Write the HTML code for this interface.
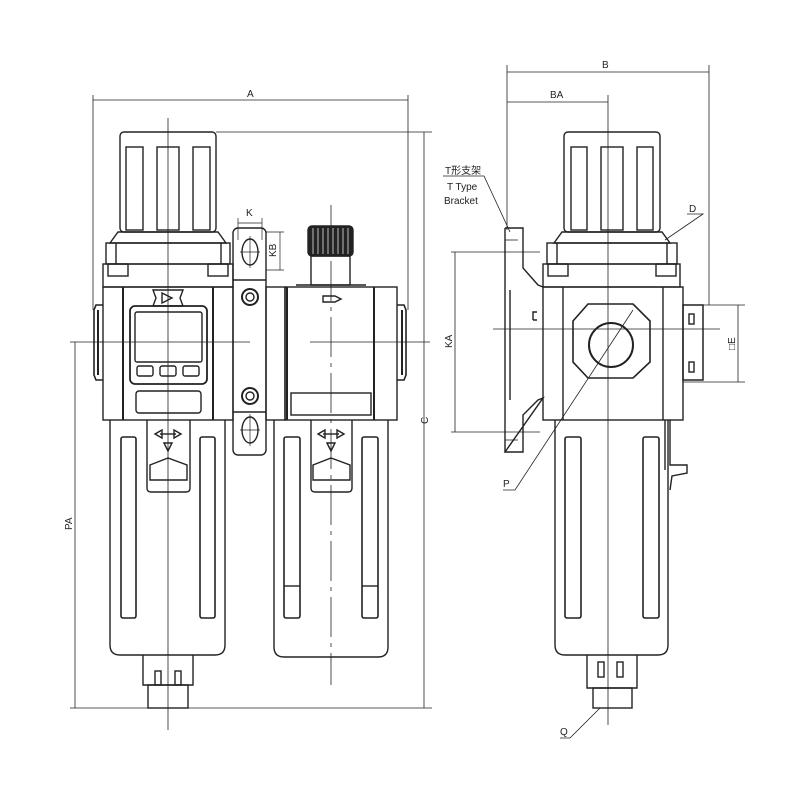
<!DOCTYPE html>
<html><head><meta charset="utf-8"><style>
html,body{margin:0;padding:0;background:#fff;}
svg{display:block}
text{font-family:"Liberation Sans","Noto Sans CJK SC",sans-serif;font-size:10px;fill:#222}
</style></head><body>
<svg width="800" height="800" viewBox="0 0 800 800" xmlns="http://www.w3.org/2000/svg">
<g fill="none" stroke="#222" stroke-width="1.4">
<!-- ===== LEFT VIEW ===== -->
<line x1="93" y1="100" x2="408" y2="100" stroke-width="0.8"/>
<line x1="93" y1="95" x2="93" y2="310" stroke-width="0.8"/>
<line x1="408" y1="95" x2="408" y2="310" stroke-width="0.8"/>
<line x1="216" y1="132" x2="432" y2="132" stroke-width="0.8"/>
<line x1="424" y1="132" x2="424" y2="708" stroke-width="0.8"/>
<line x1="70" y1="708" x2="432" y2="708" stroke-width="0.8"/>
<line x1="70" y1="342" x2="103" y2="342" stroke-width="0.8"/>
<line x1="75" y1="342" x2="75" y2="708" stroke-width="0.8"/>

<rect x="120" y="132" width="96" height="100" rx="4"/>
<rect x="126" y="147" width="17" height="83"/>
<rect x="157" y="147" width="22" height="83"/>
<rect x="193" y="147" width="17" height="83"/>
<path d="M118 232 L218 232 L226 243 L110 243 Z"/>
<rect x="106" y="243" width="124" height="21"/>
<line x1="116" y1="243" x2="116" y2="264"/><line x1="221" y1="243" x2="221" y2="264"/>
<rect x="103" y="264" width="130" height="23"/>
<rect x="108" y="264" width="20" height="12"/><rect x="208" y="264" width="20" height="12"/>
<rect x="103" y="287" width="130" height="133"/>
<line x1="123" y1="287" x2="123" y2="420" stroke-width="2"/>
<line x1="213" y1="287" x2="213" y2="420" stroke-width="2"/>
<path d="M153 290 L183 290 L180 298 L183 306 L153 306 L156 298 Z"/>
<path d="M162 293 L172 298 L162 303 Z"/>
<rect x="130" y="306" width="77" height="78" rx="5" stroke-width="1.8"/>
<rect x="135" y="312" width="67" height="50" rx="2"/>
<rect x="137" y="366" width="16" height="10" rx="2"/>
<rect x="160" y="366" width="16" height="10" rx="2"/>
<rect x="183" y="366" width="16" height="10" rx="2"/>
<rect x="136" y="391" width="65" height="22" rx="3"/>
<path d="M103 305 L96 305 L94 310 L94 375 L96 380 L103 380" stroke-width="1.6"/>
<line x1="98" y1="310" x2="98" y2="375" stroke-width="2"/>
<rect x="233" y="228" width="33" height="227" rx="5"/>
<line x1="233" y1="280" x2="266" y2="280"/>
<line x1="233" y1="412" x2="266" y2="412"/>
<ellipse cx="250" cy="252" rx="8" ry="13"/>
<ellipse cx="250" cy="430" rx="8" ry="13"/>
<circle cx="250" cy="297" r="8" stroke-width="2"/><circle cx="250" cy="297" r="4"/>
<circle cx="250" cy="396" r="8" stroke-width="2"/><circle cx="250" cy="396" r="4"/>
<line x1="240" y1="252" x2="260" y2="252" stroke-width="0.7"/>
<line x1="240" y1="430" x2="260" y2="430" stroke-width="0.7"/>
<line x1="250" y1="236" x2="250" y2="268" stroke-width="0.7"/>
<line x1="250" y1="414" x2="250" y2="446" stroke-width="0.7"/>
<line x1="238" y1="223" x2="262" y2="223" stroke-width="0.7"/>
<line x1="238" y1="218" x2="238" y2="240" stroke-width="0.7"/>
<line x1="262" y1="218" x2="262" y2="240" stroke-width="0.7"/>
<line x1="266" y1="232" x2="284" y2="232" stroke-width="0.7"/>
<line x1="266" y1="270" x2="284" y2="270" stroke-width="0.7"/>
<line x1="280" y1="232" x2="280" y2="270" stroke-width="0.7"/>
<rect x="266" y="287" width="19" height="133"/>
<rect x="308" y="226" width="45" height="30" rx="4" fill="#222"/>
<g stroke="#fff" stroke-width="0.7">
<line x1="313" y1="228" x2="313" y2="254"/><line x1="318" y1="228" x2="318" y2="254"/><line x1="323" y1="228" x2="323" y2="254"/><line x1="328" y1="228" x2="328" y2="254"/><line x1="333" y1="228" x2="333" y2="254"/><line x1="338" y1="228" x2="338" y2="254"/><line x1="343" y1="228" x2="343" y2="254"/><line x1="348" y1="228" x2="348" y2="254"/></g>
<rect x="311" y="256" width="39" height="29"/>
<line x1="296" y1="285" x2="366" y2="285"/>
<rect x="285" y="287" width="112" height="133"/>
<line x1="287" y1="287" x2="287" y2="420" stroke-width="2"/>
<line x1="374" y1="287" x2="374" y2="420" stroke-width="2"/>
<path d="M323 296 L335 296 L341 299 L335 302 L323 302 Z"/>
<rect x="291" y="393" width="80" height="22"/>
<path d="M397 305 L404 305 L406 310 L406 375 L404 380 L397 380" stroke-width="1.6"/>
<line x1="402" y1="310" x2="402" y2="375" stroke-width="2"/>

<path d="M110 420 L110 645 Q110 655 120 655 L215 655 Q225 655 225 645 L225 420"/>
<rect x="121" y="437" width="15" height="181" rx="2" stroke-width="1.6"/>
<rect x="200" y="437" width="15" height="181" rx="2" stroke-width="1.6"/>
<path d="M147 420 L147 488 Q147 492 151 492 L186 492 Q190 492 190 488 L190 420"/>
<path d="M150 465 L168 458 L187 465 L187 480 L150 480 Z"/>
<path d="M155 434 L162 430 L162 438 Z M181 434 L174 430 L174 438 Z M164 443 L168 451 L172 443 Z"/>
<line x1="160" y1="434" x2="176" y2="434"/>
<path d="M143 655 L143 685 L193 685 L193 655"/>
<rect x="148" y="685" width="40" height="23"/>
<rect x="155" y="671" width="6" height="14"/><rect x="175" y="671" width="6" height="14"/>
<path d="M274 420 L274 647 Q274 657 284 657 L378 657 Q388 657 388 647 L388 420"/>
<rect x="284" y="437" width="16" height="181" rx="2" stroke-width="1.6"/>
<rect x="362" y="437" width="16" height="181" rx="2" stroke-width="1.6"/>
<line x1="284" y1="586" x2="300" y2="586"/><line x1="362" y1="586" x2="378" y2="586"/>
<path d="M311 420 L311 488 Q311 492 315 492 L348 492 Q352 492 352 488 L352 420"/>
<path d="M313 465 L331 458 L350 465 L350 480 L313 480 Z"/>
<path d="M318 434 L325 430 L325 438 Z M344 434 L337 430 L337 438 Z M327 443 L331 451 L335 443 Z"/>
<line x1="323" y1="434" x2="339" y2="434"/>

<line x1="168" y1="118" x2="168" y2="730" stroke-width="0.8"/>
<line x1="331" y1="205" x2="331" y2="685" stroke-width="0.8" stroke-dasharray="40,6,4,6"/>
<line x1="100" y1="342" x2="250" y2="342" stroke-width="0.8"/>
<line x1="310" y1="342" x2="430" y2="342" stroke-width="0.8"/>

<!-- ===== RIGHT VIEW ===== -->
<line x1="507" y1="72" x2="709" y2="72" stroke-width="0.8"/>
<line x1="507" y1="102" x2="608" y2="102" stroke-width="0.8"/>
<line x1="507" y1="65" x2="507" y2="230" stroke-width="0.8"/>
<line x1="709" y1="65" x2="709" y2="305" stroke-width="0.8"/>
<line x1="608" y1="95" x2="608" y2="725" stroke-width="0.8"/>
<rect x="564" y="132" width="96" height="100" rx="4"/>
<rect x="571" y="147" width="16" height="83"/>
<rect x="601" y="147" width="22" height="83"/>
<rect x="637" y="147" width="16" height="83"/>
<path d="M562 232 L662 232 L670 243 L554 243 Z"/>
<rect x="547" y="243" width="130" height="21"/>
<line x1="557" y1="243" x2="557" y2="264"/><line x1="667" y1="243" x2="667" y2="264"/>
<rect x="543" y="264" width="137" height="23"/>
<rect x="548" y="264" width="20" height="12"/><rect x="656" y="264" width="20" height="12"/>
<rect x="543" y="287" width="140" height="133"/>
<line x1="563" y1="287" x2="563" y2="420"/><line x1="663" y1="287" x2="663" y2="420"/>
<path d="M588 304 L633 304 L650 321 L650 362 L633 378 L588 378 L573 362 L573 321 Z" stroke-width="1.6"/>
<circle cx="611" cy="345" r="22" stroke-width="2"/>
<rect x="683" y="305" width="20" height="75" stroke-width="1.5"/>
<rect x="689" y="314" width="5" height="10"/><rect x="689" y="362" width="5" height="10"/>
<line x1="683" y1="305" x2="745" y2="305" stroke-width="0.8"/>
<line x1="683" y1="382" x2="745" y2="382" stroke-width="0.8"/>
<line x1="738" y1="305" x2="738" y2="382" stroke-width="0.8"/>
<line x1="493" y1="329" x2="720" y2="329" stroke-width="0.8"/>
<!-- T bracket -->
<path d="M505 228 L523 228 L523 268 L538 285 L543 287 M543 398 L538 400 L523 415 L523 452 L505 452 Z M505 228 L505 452"/>
<line x1="510" y1="290" x2="510" y2="400"/>
<line x1="505" y1="240" x2="518" y2="240" stroke-width="0.8"/>
<line x1="505" y1="440" x2="518" y2="440" stroke-width="0.8"/>
<path d="M533 320 L533 312 L537 312 M533 320 L537 320"/>
<line x1="451" y1="252" x2="540" y2="252" stroke-width="0.8"/>
<line x1="451" y1="432" x2="540" y2="432" stroke-width="0.8"/>
<line x1="455" y1="252" x2="455" y2="432" stroke-width="0.8"/>
<path d="M555 420 L555 645 Q555 655 565 655 L658 655 Q668 655 668 645 L668 420"/>
<rect x="565" y="437" width="16" height="181" rx="2" stroke-width="1.6"/>
<rect x="643" y="437" width="16" height="181" rx="2" stroke-width="1.6"/>
<path d="M665 420 L665 470 M670 420 L670 465 L687 465 L687 473 L672 476 L670 490"/>
<path d="M587 655 L587 688 L637 688 L637 655"/>
<rect x="593" y="688" width="39" height="20"/>
<rect x="598" y="662" width="6" height="15"/><rect x="617" y="662" width="6" height="15"/>
<path d="M443 176 L484 176 L510 232" stroke-width="0.8"/>
<path d="M687 214 L703 214 L665 240" stroke-width="0.8"/>
<path d="M503 490 L515 490 L633 310" stroke-width="0.8"/>
<path d="M560 738 L570 738 L600 708" stroke-width="0.8"/>
</g>
<text x="247" y="97">A</text>
<text x="602" y="68">B</text>
<text x="550" y="98">BA</text>
<text x="246" y="216" font-size="9">K</text>
<text transform="translate(276,257) rotate(-90)" font-size="9">KB</text>
<text transform="translate(428,424) rotate(-90)" font-size="9">C</text>
<text transform="translate(72,530) rotate(-90)" font-size="9">PA</text>
<text transform="translate(452,348) rotate(-90)" font-size="9">KA</text>
<text transform="translate(735,350) rotate(-90)" font-size="9">□E</text>
<text x="445" y="174" font-size="10">T形支架</text>
<text x="447" y="190" font-size="10">T Type</text>
<text x="444" y="204" font-size="10">Bracket</text>
<text x="689" y="212" font-size="9">D</text>
<text x="503" y="487" font-size="9">P</text>
<text x="560" y="735" font-size="9">Q</text>
</svg>
</body></html>
